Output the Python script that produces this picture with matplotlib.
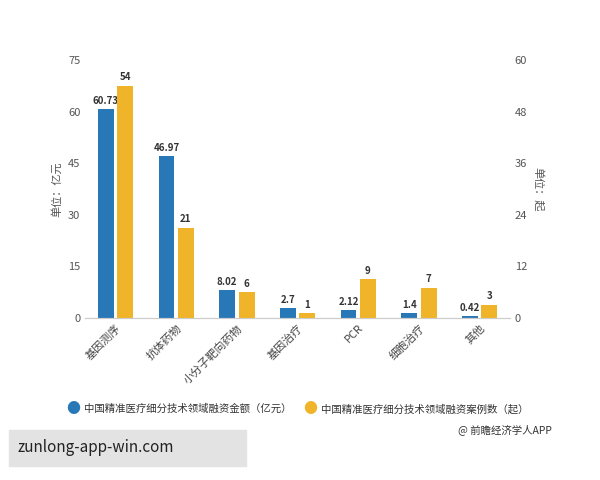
import matplotlib
matplotlib.use("Agg")
import matplotlib.pyplot as plt
import numpy as np
from matplotlib.patches import Rectangle

plt.rcParams['font.family'] = ['Noto Sans CJK SC', 'DejaVu Sans']

categories = ['基因测序', '抗体药物', '小分子靶向药物', '基因治疗', 'PCR', '细胞治疗', '其他']
amount = [60.73, 46.97, 8.02, 2.7, 2.12, 1.4, 0.42]
cases = [54, 21, 6, 1, 9, 7, 3]
amount_labels = ['60.73', '46.97', '8.02', '2.7', '2.12', '1.4', '0.42']
left_ticks = [0, 15, 30, 45, 60, 75]
right_ticks = [0, 12, 24, 36, 48, 60]

blue = '#2878b8'
orange = '#f0b42a'

fig = plt.figure(figsize=(6, 4.8), dpi=100)
ax = fig.add_axes([0.142, 0.338, 0.708, 0.537])
ax2 = ax.twinx()
x = np.arange(len(categories))
w = 0.26
off = 0.16
ax.bar(x - off, amount, w, color=blue, zorder=2)
ax2.bar(x + off, cases, w, color=orange, zorder=2)
for xi, v, l in zip(x, amount, amount_labels):
    ax.text(xi - off, v + 1, l, ha='center', va='bottom', fontsize=7, fontweight='bold', color='#333333')
for xi, v in zip(x, cases):
    ax2.text(xi + off, v + 0.8, str(v), ha='center', va='bottom', fontsize=7, fontweight='bold', color='#333333')

ax.set_ylim(0, 75); ax.set_yticks(left_ticks)
ax2.set_ylim(0, 60); ax2.set_yticks(right_ticks)
ax.set_xlim(-0.5, len(categories) - 0.5)
ax.set_xticks(x)
ax.set_xticklabels(categories, rotation=45, ha='right', rotation_mode='anchor', fontsize=8, color='#444444')
for a in (ax, ax2):
    for s in ['top', 'left', 'right']:
        a.spines[s].set_visible(False)
    a.spines['bottom'].set_color('#cccccc')
    a.tick_params(axis='y', length=0, labelsize=8, colors='#555555')
ax.tick_params(axis='x', length=0)
ax.set_ylabel('单位：亿元', fontsize=8, color='#555555')
ax2.set_ylabel('单位：起', fontsize=8, color='#555555', rotation=270, labelpad=12)

fig.text(0.11, 0.148, '●', color=blue, fontsize=10, va='center')
fig.text(0.14, 0.148, '中国精准医疗细分技术领域融资金额（亿元）', fontsize=7.5, va='center', color='#333333')
fig.text(0.505, 0.148, '●', color=orange, fontsize=10, va='center')
fig.text(0.535, 0.148, '中国精准医疗细分技术领域融资案例数（起）', fontsize=7.5, va='center', color='#333333')
fig.text(0.92, 0.105, '@ 前瞻经济学人APP', fontsize=7.5, ha='right', va='center', color='#333333')

fig.patches.append(Rectangle((0.015, 0.03), 0.395, 0.075, transform=fig.transFigure, color='#e3e3e3', zorder=5))
fig.text(0.03, 0.067, 'zunlong-app-win.com', fontsize=11, va='center', color='#222222', zorder=6)

fig.savefig('out.png', dpi=100, facecolor='white')
